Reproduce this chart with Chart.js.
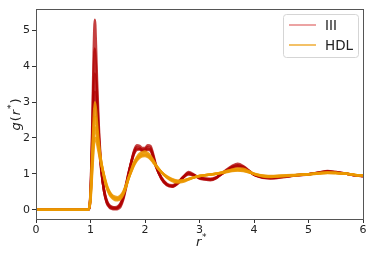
<!DOCTYPE html>
<html>
<head>
<meta charset="utf-8">
<script src="https://cdn.jsdelivr.net/npm/chart.js@4.4.1/dist/chart.umd.min.js"></script>
<style>
  html, body { margin: 0; padding: 0; background: white; }
  #rdf-canvas { display: block; }
</style>
</head>
<body>
<canvas id="rdf-canvas" width="374" height="257"></canvas>
<script>
// g(r*) curves for phase III (red) and HDL (orange)

const rVals = [0, 0.5, 0.96, 1.0, 1.03, 1.06, 1.08, 1.1, 1.12, 1.15,
  1.2, 1.25, 1.3, 1.35, 1.4, 1.45, 1.5, 1.55, 1.6, 1.65,
  1.7, 1.75, 1.8, 1.85, 1.9, 1.95, 2.0, 2.05, 2.1, 2.15,
  2.2, 2.3, 2.4, 2.5, 2.6, 2.7, 2.8, 2.9, 3.0, 3.1,
  3.2, 3.3, 3.4, 3.5, 3.6, 3.7, 3.8, 3.9, 4.0, 4.1,
  4.2, 4.3, 4.4, 4.6, 4.8, 5.0, 5.2, 5.35, 5.5, 5.7,
  5.85, 6.0];

const gIII_a = [0, 0, 0, 0.5, 2.2, 4.5, 5.3, 4.6, 3.6, 2.4,
  1.15, 0.5, 0.18, 0.06, 0.02, 0.01, 0.02, 0.08, 0.28, 0.6,
  0.98, 1.35, 1.65, 1.8, 1.78, 1.72, 1.72, 1.8, 1.78, 1.55,
  1.25, 0.88, 0.7, 0.65, 0.72, 0.9, 1.05, 0.98, 0.88, 0.84,
  0.82, 0.87, 1.0, 1.12, 1.22, 1.28, 1.22, 1.1, 0.98, 0.92,
  0.88, 0.87, 0.88, 0.92, 0.96, 0.98, 1.04, 1.08, 1.05, 1.0,
  0.96, 0.93];
const gIII_b = [0, 0, 0, 0.45, 2.0, 3.9, 4.5, 4.0, 3.2, 2.2,
  1.1, 0.5, 0.2, 0.08, 0.04, 0.03, 0.05, 0.12, 0.32, 0.64,
  1.0, 1.34, 1.62, 1.74, 1.72, 1.68, 1.69, 1.74, 1.72, 1.5,
  1.22, 0.86, 0.68, 0.64, 0.74, 0.92, 1.02, 0.96, 0.87, 0.85,
  0.84, 0.88, 0.99, 1.1, 1.2, 1.24, 1.2, 1.09, 0.98, 0.92,
  0.89, 0.88, 0.89, 0.93, 0.96, 0.99, 1.04, 1.07, 1.05, 1.0,
  0.96, 0.94];
const gIII_c = [0, 0, 0, 0.4, 1.8, 3.4, 3.8, 3.5, 2.9, 2.05,
  1.1, 0.52, 0.22, 0.1, 0.06, 0.05, 0.07, 0.15, 0.35, 0.67,
  1.02, 1.33, 1.58, 1.7, 1.7, 1.66, 1.66, 1.7, 1.68, 1.48,
  1.22, 0.88, 0.7, 0.66, 0.75, 0.9, 1.0, 0.96, 0.89, 0.86,
  0.85, 0.89, 0.99, 1.09, 1.18, 1.22, 1.18, 1.08, 0.98, 0.93,
  0.9, 0.89, 0.9, 0.93, 0.97, 0.99, 1.03, 1.06, 1.04, 1.0,
  0.96, 0.94];
const gIII_d = [0, 0, 0, 0.35, 1.6, 3.0, 3.3, 3.1, 2.6, 1.9,
  1.05, 0.55, 0.25, 0.12, 0.08, 0.07, 0.09, 0.18, 0.38, 0.7,
  1.04, 1.32, 1.56, 1.67, 1.68, 1.64, 1.64, 1.67, 1.65, 1.46,
  1.2, 0.9, 0.72, 0.68, 0.76, 0.9, 0.98, 0.95, 0.9, 0.87,
  0.86, 0.9, 0.99, 1.08, 1.16, 1.2, 1.16, 1.07, 0.98, 0.93,
  0.9, 0.9, 0.91, 0.93, 0.97, 0.99, 1.03, 1.06, 1.04, 1.0,
  0.96, 0.94];

const gHDL_a = [0, 0, 0, 0.4, 1.5, 2.6, 3.0, 2.8, 2.4, 1.9,
  1.3, 0.9, 0.6, 0.42, 0.32, 0.27, 0.26, 0.3, 0.42, 0.62,
  0.88, 1.12, 1.32, 1.46, 1.56, 1.6, 1.62, 1.58, 1.5, 1.38,
  1.25, 1.05, 0.9, 0.8, 0.76, 0.78, 0.84, 0.9, 0.94, 0.96,
  0.98, 1.0, 1.04, 1.08, 1.12, 1.15, 1.14, 1.08, 1.0, 0.95,
  0.92, 0.91, 0.92, 0.94, 0.97, 0.99, 1.02, 1.04, 1.03, 1.0,
  0.97, 0.95];
const gHDL_b = [0, 0, 0, 0.35, 1.3, 2.3, 2.6, 2.5, 2.2, 1.8,
  1.3, 0.92, 0.62, 0.45, 0.35, 0.3, 0.29, 0.33, 0.45, 0.64,
  0.88, 1.1, 1.3, 1.43, 1.52, 1.56, 1.57, 1.54, 1.47, 1.36,
  1.24, 1.05, 0.91, 0.82, 0.78, 0.8, 0.85, 0.9, 0.94, 0.96,
  0.98, 1.0, 1.03, 1.07, 1.1, 1.12, 1.11, 1.06, 1.0, 0.96,
  0.93, 0.92, 0.93, 0.95, 0.97, 0.99, 1.02, 1.03, 1.02, 1.0,
  0.97, 0.96];
const gHDL_c = [0, 0, 0, 0.3, 1.15, 2.0, 2.3, 2.25, 2.0, 1.7,
  1.28, 0.94, 0.65, 0.48, 0.38, 0.33, 0.32, 0.36, 0.47, 0.66,
  0.88, 1.08, 1.27, 1.4, 1.48, 1.52, 1.53, 1.5, 1.44, 1.34,
  1.23, 1.05, 0.92, 0.84, 0.8, 0.81, 0.86, 0.9, 0.94, 0.96,
  0.98, 1.0, 1.03, 1.06, 1.09, 1.1, 1.09, 1.05, 1.0, 0.96,
  0.94, 0.93, 0.94, 0.95, 0.97, 0.99, 1.01, 1.03, 1.02, 1.0,
  0.97, 0.96];
const gHDL_d = [0, 0, 0, 0.25, 1.0, 1.75, 2.0, 2.0, 1.85, 1.6,
  1.25, 0.95, 0.68, 0.5, 0.4, 0.36, 0.35, 0.39, 0.5, 0.68,
  0.89, 1.07, 1.24, 1.37, 1.45, 1.49, 1.5, 1.47, 1.41, 1.32,
  1.22, 1.05, 0.93, 0.85, 0.81, 0.82, 0.86, 0.9, 0.94, 0.96,
  0.98, 1.0, 1.02, 1.05, 1.08, 1.09, 1.08, 1.04, 1.0, 0.97,
  0.95, 0.94, 0.94, 0.96, 0.97, 0.99, 1.01, 1.02, 1.02, 1.0,
  0.97, 0.96];

const seriesIII = [gIII_a, gIII_b, gIII_c, gIII_d];
const seriesHDL = [gHDL_a, gHDL_b, gHDL_c, gHDL_d];
const xTicks = [0, 1, 2, 3, 4, 5, 6];
const yTicks = [0, 1, 2, 3, 4, 5];
const legendNames = ['III', 'HDL'];

const RED = 'rgba(176,0,0,0.75)';
const ORANGE = 'rgba(235,152,0,0.85)';

document.addEventListener('DOMContentLoaded', function () {
  const ctx = document.getElementById('rdf-canvas').getContext('2d');

  // order: higher is drawn first, so HDL ends up on top
  function makeSet(vals, color, order) {
    return {
      data: vals.map((g, i) => ({ x: rVals[i], y: g })),
      borderColor: color,
      borderWidth: 2.5,
      pointRadius: 0,
      fill: false,
      order: order,
      cubicInterpolationMode: 'monotone',
    };
  }

  const datasets = [];
  seriesIII.forEach(s => datasets.push(makeSet(s, RED, 2)));
  seriesHDL.forEach(s => datasets.push(makeSet(s, ORANGE, 1)));

  // frame, axis titles and legend box, matplotlib style
  const decor = {
    id: 'decor',
    afterDraw(chart) {
      const c = chart.ctx;
      const a = chart.chartArea;
      c.save();
      c.strokeStyle = '#555';
      c.lineWidth = 1;
      c.strokeRect(Math.round(a.left) + 0.5, Math.round(a.top) + 0.5,
        Math.round(a.right - a.left), Math.round(a.bottom - a.top));

      // y title: g(r*)
      c.fillStyle = '#222';
      c.translate(17, 114);
      c.rotate(-Math.PI / 2);
      c.textBaseline = 'middle';
      const parts = [['italic 13px "DejaVu Sans"', 'g', 0], ['13px "DejaVu Sans"', '(', 0],
        ['italic 13px "DejaVu Sans"', 'r', 0], ['9px "DejaVu Sans"', '*', -5],
        ['13px "DejaVu Sans"', ')', 0]];
      let w = 0;
      parts.forEach(p => { c.font = p[0]; w += c.measureText(p[1]).width + 1; });
      let x = -w / 2;
      parts.forEach(p => { c.font = p[0]; c.fillText(p[1], x, p[2]); x += c.measureText(p[1]).width + 1; });
      c.setTransform(1, 0, 0, 1, 0, 0);

      // x title: r*
      c.textBaseline = 'middle';
      c.font = 'italic 13px "DejaVu Sans"';
      c.fillText('r', 196, 243);
      c.font = '9px "DejaVu Sans"';
      c.fillText('*', 202, 238);

      // legend
      const lx = 283, ly = 14, lw = 75, lh = 43;
      c.fillStyle = 'rgba(255,255,255,0.85)';
      c.strokeStyle = '#d5d5d5';
      c.lineWidth = 1;
      c.beginPath();
      c.roundRect(lx + 0.5, ly + 0.5, lw, lh, 3);
      c.fill();
      c.stroke();
      const colors = ['rgb(224,102,102)', 'rgb(235,152,0)'];
      legendNames.forEach((name, i) => {
        const yy = ly + 11 + i * 20;
        c.strokeStyle = colors[i];
        c.lineWidth = 1.2;
        c.beginPath();
        c.moveTo(lx + 6, yy);
        c.lineTo(lx + 33, yy);
        c.stroke();
        c.fillStyle = '#222';
        c.font = '13.5px "DejaVu Sans"';
        c.textBaseline = 'middle';
        c.fillText(name, lx + 42, yy + 1);
      });
      c.restore();
    }
  };

  new Chart(ctx, {
    type: 'line',
    data: { datasets },
    options: {
      responsive: false,
      animation: false,
      layout: { padding: { top: 7, right: 11, left: 0, bottom: 0 } },
      plugins: { legend: { display: false }, tooltip: { enabled: false } },
      scales: {
        x: {
          type: 'linear', min: 0, max: 6,
          afterBuildTicks: s => { s.ticks = xTicks.map(v => ({ value: v })); },
          afterFit: s => { s.height = 38; },
          grid: { drawOnChartArea: false, drawTicks: true, tickLength: 4, tickColor: '#333' },
          border: { display: false },
          ticks: { color: '#222', padding: 1, maxRotation: 0, font: { family: 'DejaVu Sans', size: 11 } },
        },
        y: {
          min: -0.26, max: 5.61,
          afterBuildTicks: s => { s.ticks = yTicks.map(v => ({ value: v })); },
          afterFit: s => { s.width = 36; },
          grid: { drawOnChartArea: false, drawTicks: true, tickLength: 4, tickColor: '#333' },
          border: { display: false },
          ticks: { color: '#222', padding: 2, font: { family: 'DejaVu Sans', size: 11 } },
        }
      }
    },
    plugins: [decor]
  });
});
</script>
</body>
</html>
